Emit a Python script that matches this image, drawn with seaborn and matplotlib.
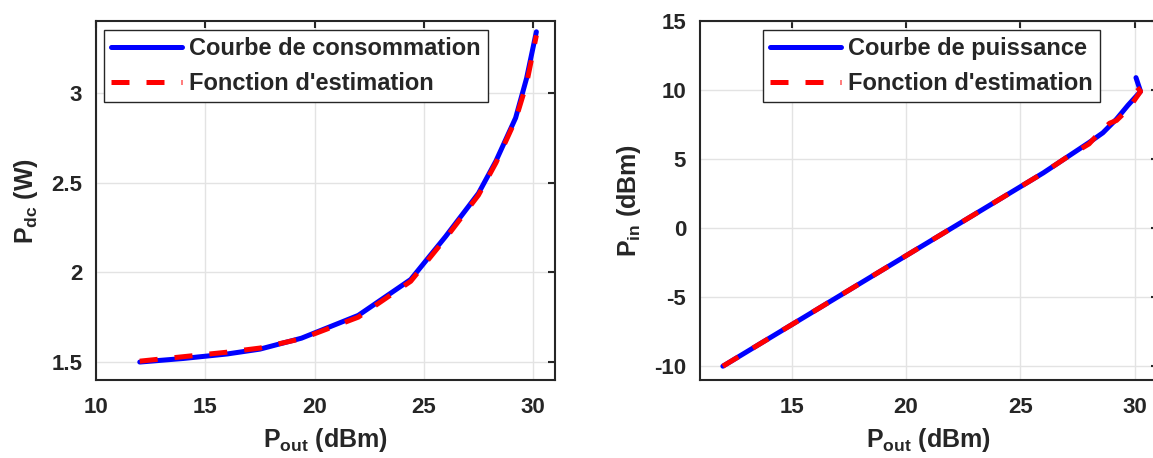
import numpy as np
import pandas as pd
import seaborn as sns
import matplotlib.pyplot as plt

# courbe de consommation (gauche)
pout_dc = [12, 14, 16, 17.5, 19.4, 22, 24.4, 26, 27.5, 28.3, 29.2, 29.7, 30.15]
pdc = [1.50, 1.52, 1.545, 1.572, 1.633, 1.76, 1.96, 2.2, 2.44, 2.62, 2.86, 3.08, 3.34]
pout_dc_est = [12, 14, 16, 17.5, 19.4, 22, 24.4, 26, 27.5, 28.3, 29.2, 29.7, 30.15]
pdc_est = [1.505, 1.53, 1.555, 1.578, 1.63, 1.75, 1.95, 2.19, 2.43, 2.61, 2.85, 3.05, 3.32]

# courbe de puissance (droite)
pout_in = [12, 14, 16, 18, 20, 22, 24, 25, 26, 27, 28, 28.6, 29.2, 29.7, 30.25, 30.05]
pin = [-10, -8, -6, -4, -2, 0, 2, 3, 4, 5.1, 6.2, 6.9, 7.9, 8.9, 9.9, 10.9]
pout_in_est = [12, 14, 16, 18, 20, 22, 24, 25, 26, 27, 28, 28.5, 28.9, 29.2, 29.7, 30.25, 30.05]
pin_est = [-10, -8, -6, -4, -2, 0, 2, 3, 4, 5.1, 6.1, 7.0, 7.6, 7.8, 8.6, 9.9, 10.3]

sns.set_style('whitegrid')
plt.rcParams['font.family'] = ['Liberation Sans', 'DejaVu Sans']
plt.rcParams['font.weight'] = 'bold'
plt.rcParams['axes.unicode_minus'] = False
plt.rcParams['mathtext.fontset'] = 'custom'
plt.rcParams['mathtext.rm'] = 'Liberation Sans:bold'
plt.rcParams['mathtext.bf'] = 'Liberation Sans:bold'
plt.rcParams['mathtext.it'] = 'Liberation Sans:bold'

fig = plt.figure(figsize=(11.53, 4.58), dpi=100)
ax1 = fig.add_axes([0.0833, 0.1703, 0.398, 0.7838])
ax2 = fig.add_axes([0.6071, 0.1703, 0.397, 0.7838])

def trace(ax, x, y, xe, ye, lab1, lab2, loc, anchor):
    d1 = pd.DataFrame({'x': x, 'y': y})
    d2 = pd.DataFrame({'x': xe, 'y': ye})
    sns.lineplot(data=d1, x='x', y='y', ax=ax, sort=False, estimator=None,
                 color=(0, 0, 1), lw=3.6, label=lab1)
    sns.lineplot(data=d2, x='x', y='y', ax=ax, sort=False, estimator=None,
                 color=(1, 0, 0), lw=3.6, label=lab2, dashes=False)
    ax.lines[1].set_dashes([3.6, 3.4])
    for s in ax.spines.values():
        s.set_color('#262626')
        s.set_linewidth(1.5)
    ax.grid(True, color='#e3e3e3', lw=1.0)
    ax.tick_params(direction='in', top=True, right=True, length=5, width=1.5,
                   labelsize=16, colors='#262626', pad=10)
    ax.tick_params(axis='x', pad=12)
    for t in ax.get_xticklabels() + ax.get_yticklabels():
        t.set_fontweight('bold')
    leg = ax.legend(loc=loc, bbox_to_anchor=anchor, fontsize=17,
                    handlelength=3.0, fancybox=False, framealpha=1,
                    borderpad=0.3, labelspacing=0.5, handletextpad=0.3,
                    borderaxespad=0)
    leg.get_frame().set_edgecolor('#262626')
    leg.get_frame().set_linewidth(1.0)
    for t in leg.get_texts():
        t.set_fontweight('bold')
    ax.set_xlabel(r'$\mathbf{P_{out}}$ (dBm)', fontsize=18, fontweight='bold',
                  color='#262626', labelpad=6)

trace(ax1, pout_dc, pdc, pout_dc_est, pdc_est,
      'Courbe de consommation', "Fonction d'estimation",
      'upper left', (0.0175, 0.975))
ax1.set_xlim(10, 31)
ax1.set_ylim(1.4, 3.4)
ax1.set_xticks([10, 15, 20, 25, 30])
ax1.set_yticks([1.5, 2, 2.5, 3])
ax1.set_yticklabels(['1.5', '2', '2.5', '3'])
ax1.set_ylabel(r'$\mathbf{P_{dc}}$ (W)', fontsize=18, fontweight='bold',
               color='#262626', labelpad=8)

trace(ax2, pout_in, pin, pout_in_est, pin_est,
      'Courbe de puissance', "Fonction d'estimation",
      'upper right', (0.873, 0.975))
ax2.set_xlim(11, 31)
ax2.set_ylim(-11, 15)
ax2.set_xticks([15, 20, 25, 30])
ax2.set_yticks([-10, -5, 0, 5, 10, 15])
ax2.set_ylabel(r'$\mathbf{P_{in}}$ (dBm)', fontsize=18, fontweight='bold',
               color='#262626', labelpad=8)

fig.savefig('out.png', dpi=100)
